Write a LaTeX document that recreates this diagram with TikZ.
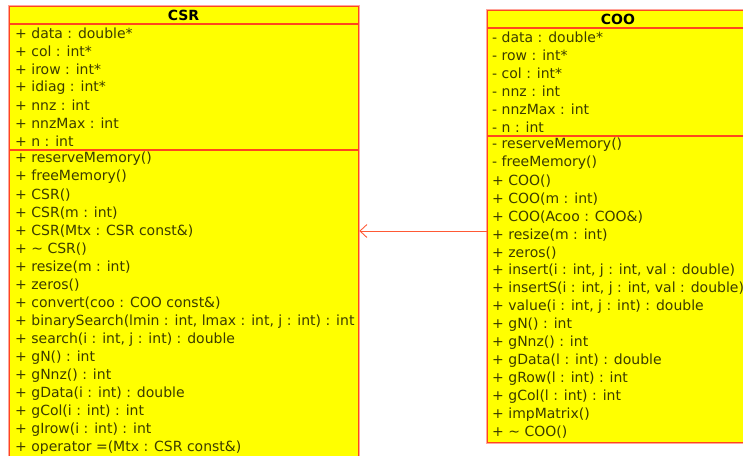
\documentclass[tikz,border=0pt]{standalone}
\usepackage{fontspec}
\setmainfont{DejaVu Sans}
\usetikzlibrary{arrows.meta}
\definecolor{umlfill}{RGB}{255,255,0}
\definecolor{umlline}{RGB}{255,70,30}
\definecolor{umlhalo}{RGB}{255,165,155}
\definecolor{umltext}{RGB}{60,60,0}
\begin{document}
\begin{tikzpicture}[x=1pt,y=-1pt,
  classbox/.style={draw=umlline, fill=umlfill, line width=1.3pt, inner sep=0pt, anchor=north west,
    preaction={draw=umlhalo, line width=3pt}},
  sepline/.style={draw=umlline, line width=1.3pt},
  member/.style={anchor=west, inner sep=0pt, text=umltext, font=\fontsize{14}{16}\selectfont},
  classtitle/.style={inner sep=0pt, text=black, font=\bfseries\fontsize{14}{16}\selectfont},
  inherit/.style={draw=umlline!90, line width=0.9pt, -{Straight Barb[length=7pt,width=13pt]}}]
\clip (0,0) rectangle (743,455);
% CSR class
\node[classbox, minimum width=349pt, minimum height=480pt] (csr) at (9,6) {};
\node[classtitle] (csrtitle) at (183.5,15.5) {CSR};
\draw[sepline] (9,24) -- (358,24);
\draw[sepline] (9,150) -- (358,150);
\foreach \t [count=\i] in {{+ data : double*},{+ col : int*},{+ irow : int*},{+ idiag : int*},{+ nnz : int},{+ nnzMax : int},{+ n : int}}
  \node[member] (csra\i) at (15,{33+18.1*(\i-1)}) {\t};
\foreach \t [count=\i] in {{+ reserveMemory()},{+ freeMemory()},{+ CSR()},{+ CSR(m : int)},{+ CSR(Mtx : CSR const\&)},{+ \textasciitilde\ CSR()},{+ resize(m : int)},{+ zeros()},{+ convert(coo : COO const\&)},{+ binarySearch(lmin : int, lmax : int, j : int) : int},{+ search(i : int, j : int) : double},{+ gN() : int},{+ gNnz() : int},{+ gData(i : int) : double},{+ gCol(i : int) : int},{+ gIrow(i : int) : int},{+ operator =(Mtx : CSR const\&)}}
  \node[member] (csrm\i) at (15,{158.5+18.1*(\i-1)}) {\t};
% COO class
\node[classbox, minimum width=262pt, minimum height=432pt] (coo) at (487,10) {};
\node[classtitle] (cootitle) at (618,19.5) {COO};
\draw[sepline] (487,28) -- (749,28);
\draw[sepline] (487,136) -- (749,136);
\foreach \t [count=\i] in {{- data : double*},{- row : int*},{- col : int*},{- nnz : int},{- nnzMax : int},{- n : int}}
  \node[member] (cooa\i) at (492,{37+18*(\i-1)}) {\t};
\foreach \t [count=\i] in {{- reserveMemory()},{- freeMemory()},{+ COO()},{+ COO(m : int)},{+ COO(Acoo : COO\&)},{+ resize(m : int)},{+ zeros()},{+ insert(i : int, j : int, val : double)},{+ insertS(i : int, j : int, val : double)},{+ value(i : int, j : int) : double},{+ gN() : int},{+ gNnz() : int},{+ gData(l : int) : double},{+ gRow(l : int) : int},{+ gCol(l : int) : int},{+ impMatrix()},{+ \textasciitilde\ COO()}}
  \node[member] (coom\i) at (492,{145+17.95*(\i-1)}) {\t};
% inheritance
\draw[inherit] (coo.west |- 0,231) -- (csr.east |- 0,231);
\end{tikzpicture}
\end{document}
